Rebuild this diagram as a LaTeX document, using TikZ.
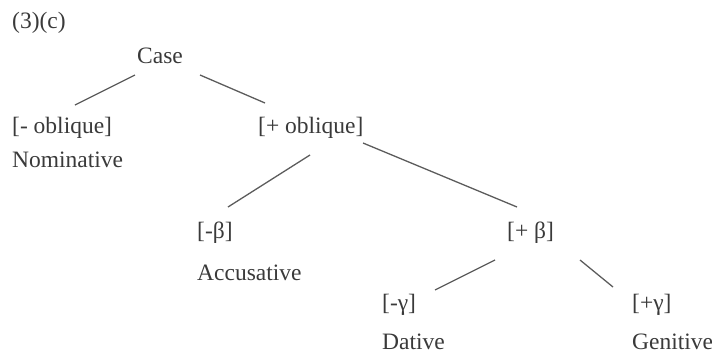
\documentclass[tikz,border=0pt]{standalone}
\usepackage{fontspec}
\setmainfont{Liberation Serif}
\usepackage{tikz}
\usetikzlibrary{calc}
\definecolor{Ink}{HTML}{3A3A3A}
\definecolor{Branch}{HTML}{5C5C5C}
\newcommand{\branch}[4]{%
  \draw[Branch,line width=1.3pt] ($(#1)+(#2)$) -- ($(#3)+(#4)$);
}

\begin{document}
\begin{tikzpicture}[x=1pt,y=-1pt,
    lbl/.style={anchor=base west,inner sep=0pt,text=Ink,
                font=\fontsize{23.5}{27}\selectfont}]
      \useasboundingbox (0,0) rectangle (712,354);
      \node[lbl] (ex) at (12,28) {(3)(c)};
      \node[lbl] (case) at (137,63) {Case};

      \node[lbl] (nobl) at (12,133) {[- oblique]};
      \node[lbl] (nom) at (12,167) {Nominative};
      \node[lbl] (pobl) at (258,133) {[+ oblique]};

      \node[lbl] (nbeta) at (197,238) {[-β]};
      \node[lbl] (acc) at (197,280) {Accusative};
      \node[lbl] (pbeta) at (507,238) {[+ β]};

      \node[lbl] (ngam) at (382,310) {[-γ]};
      \node[lbl] (dat) at (382,349) {Dative};
      \node[lbl] (pgam) at (632,310) {[+γ]};
      \node[lbl] (gen) at (632,349) {Genitive};

      \branch{case.base west}{-2,12}{nobl.base west}{63,-28}
      \branch{case.base west}{63,12}{pobl.base west}{7,-30}
      \branch{pobl.base west}{52,22}{nbeta.base west}{31,-31}
      \branch{pobl.base west}{105,10}{pbeta.base west}{10,-31}
      \branch{pbeta.base west}{-12,22}{ngam.base west}{53,-20}
      \branch{pbeta.base west}{73,22}{pgam.base west}{-19,-23}
    \end{tikzpicture}
\end{document}
